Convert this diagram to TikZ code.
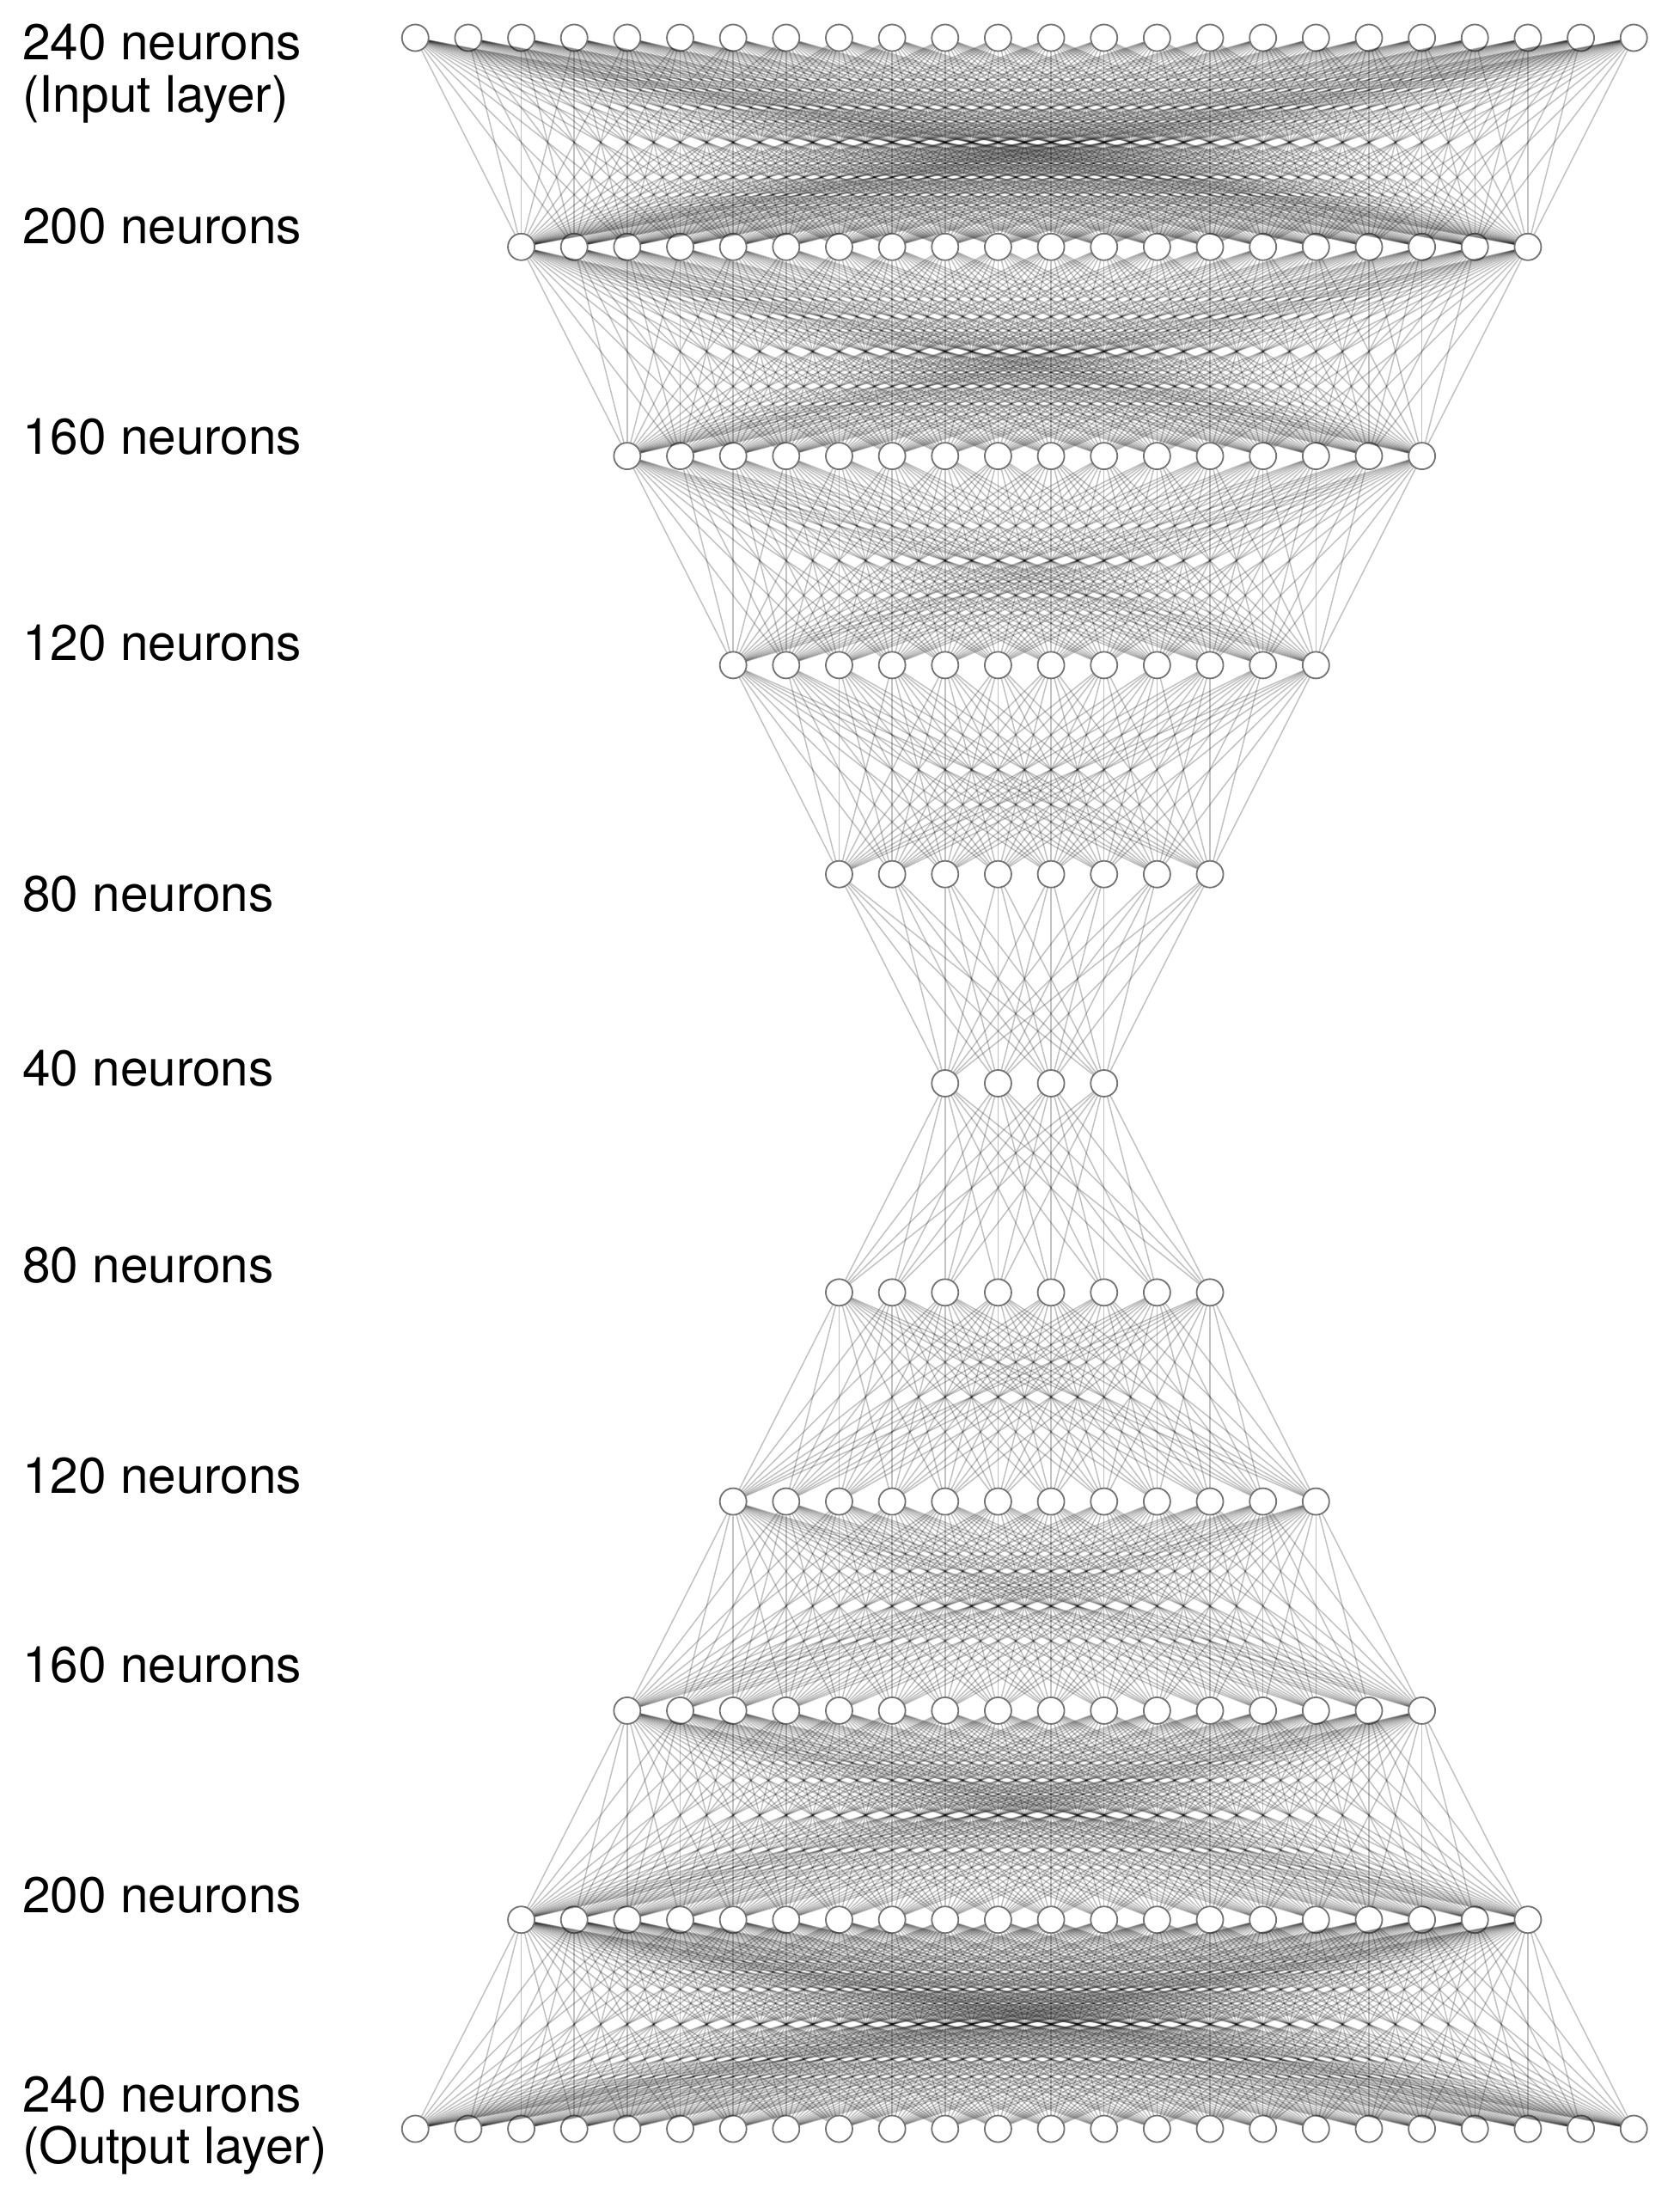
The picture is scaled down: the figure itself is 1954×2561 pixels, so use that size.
\documentclass[tikz,border=0pt]{standalone}
\usepackage{fontspec}
\setmainfont{TeX Gyre Heros}
\begin{document}
\begin{tikzpicture}[x=1pt,y=-1pt,
  neuron/.style={circle, draw=black!55, line width=1.8pt, fill=white, minimum size=31pt, inner sep=0pt},
  synapse/.style={draw=black, draw opacity=0.24, line width=1.5pt},
  lbl/.style={anchor=base west, inner sep=0pt, font=\fontsize{58.5}{62}\selectfont}]
\useasboundingbox (0,0) rectangle (1954,2561);
\def\sizes{24,20,16,12,8,4,8,12,16,20,24}
\def\sizearr{{24,20,16,12,8,4,8,12,16,20,24}}
% neurons
\foreach \n [count=\k from 0] in \sizes {
  \pgfmathsetmacro\yy{44+\k*243.3}
  \foreach \i in {1,...,\n} {
    \node[neuron] (L\k-\i) at ({1192.25+(\i-(\n+1)/2)*61.65}, \yy) {};
  }
}
% connections
\foreach \k in {0,...,9} {
  \pgfmathtruncatemacro\na{\sizearr[\k]}
  \pgfmathtruncatemacro\kb{\k+1}
  \pgfmathtruncatemacro\nb{\sizearr[\kb]}
  \foreach \i in {1,...,\na} {
    \foreach \j in {1,...,\nb} {
      \draw[synapse] (L\k-\i) -- (L\kb-\j);
    }
  }
}
% labels
\node[lbl] (t0a) at (26,70) {240 neurons};
\node[lbl] (t0b) at (26,131) {(Input layer)};
\node[lbl] (t1) at (26,283) {200 neurons};
\node[lbl] (t2) at (26,528) {160 neurons};
\node[lbl] (t3) at (26,768) {120 neurons};
\node[lbl] (t4) at (26,1060) {80 neurons};
\node[lbl] (t5) at (26,1263) {40 neurons};
\node[lbl] (t6) at (26,1492) {80 neurons};
\node[lbl] (t7) at (26,1737) {120 neurons};
\node[lbl] (t8) at (26,1957) {160 neurons};
\node[lbl] (t9) at (26,2225) {200 neurons};
\node[lbl] (t10a) at (26,2457) {240 neurons};
\node[lbl] (t10b) at (26,2517) {(Output layer)};
\end{tikzpicture}
\end{document}
